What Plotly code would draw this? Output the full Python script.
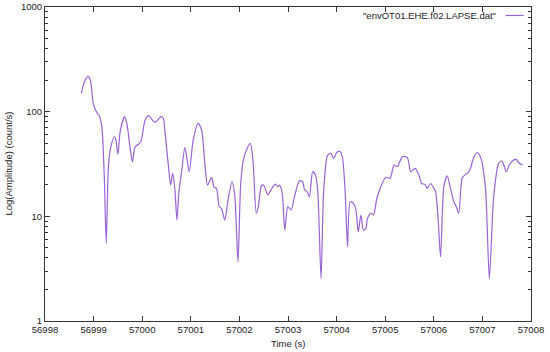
import plotly.graph_objects as go

# Time offsets (s) from 56998 and amplitudes (count/s)
t_offset = [
    0.748, 0.809, 0.881, 0.932, 1.000, 1.090, 1.117, 1.172, 1.219, 1.260,
    1.307, 1.363, 1.430, 1.459, 1.500, 1.547, 1.635, 1.684, 1.752, 1.799,
    1.855, 1.922, 1.977, 2.059, 2.127, 2.264, 2.387, 2.434, 2.469, 2.537,
    2.586, 2.627, 2.674, 2.715, 2.756, 2.811, 2.879, 2.967, 3.049, 3.152,
    3.221, 3.289, 3.344, 3.426, 3.480, 3.529, 3.582, 3.631, 3.699, 3.766,
    3.848, 3.904, 3.971, 4.027, 4.088, 4.176, 4.225, 4.279, 4.348, 4.389,
    4.451, 4.498, 4.586, 4.656, 4.738, 4.791, 4.826, 4.881, 4.934, 4.996,
    5.066, 5.133, 5.236, 5.303, 5.338, 5.393, 5.441, 5.508, 5.564, 5.611,
    5.680, 5.734, 5.816, 5.885, 5.939, 6.008, 6.076, 6.123, 6.178, 6.225,
    6.281, 6.348, 6.398, 6.445, 6.500, 6.553, 6.602, 6.635, 6.705, 6.758,
    6.828, 6.910, 7.012, 7.100, 7.182, 7.250, 7.352, 7.455, 7.525, 7.613,
    7.695, 7.750, 7.818, 7.865, 7.934, 8.002, 8.037, 8.084, 8.139, 8.207,
    8.275, 8.344, 8.412, 8.459, 8.514, 8.582, 8.637, 8.705, 8.754, 8.822,
    8.889, 8.959, 9.061, 9.143, 9.232, 9.334, 9.402, 9.492, 9.553, 9.641,
    9.697, 9.744, 9.826,
]
amplitude = [
    150, 192, 217, 201, 116, 94.4, 91.6, 69.4, 24.8, 5.5,
    30.9, 48.0, 57.6, 53.6, 39.1, 64.4, 89.6, 77.4, 44.7, 33.2,
    46.2, 48.8, 52.5, 83.3, 91.6, 79.2, 89.6, 86.5, 64.4, 30.9,
    19.9, 25.7, 17.8, 9.2, 17.2, 26.7, 45.6, 26.7, 53.6, 77.4,
    66.8, 32.1, 19.9, 23.6, 18.9, 18.5, 12.5, 11.9, 9.2, 14.3,
    21.4, 16.0, 3.67, 20.6, 35.8, 46.2, 49.9, 34.5, 10.7, 12.3,
    19.5, 19.9, 16.0, 18.1, 20.3, 19.2, 19.9, 16.6, 7.38, 12.3,
    11.5, 15.4, 21.9, 21.4, 18.1, 17.2, 15.4, 26.7, 24.8, 17.8,
    2.55, 17.8, 38.5, 40.0, 35.8, 40.9, 41.4, 35.8, 16.6, 5.11,
    13.8, 13.3, 11.5, 7.11, 10.3, 7.38, 7.66, 9.55, 10.7, 10.3,
    14.8, 19.2, 23.6, 23.1, 30.9, 29.8, 37.1, 36.6, 26.7, 28.7,
    24.8, 20.6, 20.2, 18.5, 20.6, 18.5, 17.2, 10.3, 4.10, 19.2,
    24.3, 18.5, 13.8, 12.5, 10.7, 23.1, 24.8, 26.1, 28.7, 36.6,
    40.5, 37.1, 19.2, 2.55, 15.4, 32.1, 33.8, 26.7, 30.9, 34.5,
    35.0, 32.5, 30.9,
]
t0 = 56998
time_s = [t0 + v for v in t_offset]

x_ticks = list(range(56998, 57009))
y_ticks = [1, 10, 100, 1000]
series_name = '"envOT01.EHE.f02.LAPSE.dat"'

line_color = "#9a62d8"
font = dict(family="Liberation Sans, Arial, sans-serif", size=9.5, color="#222")

fig = go.Figure()
fig.add_trace(go.Scatter(
    x=time_s, y=amplitude, mode="lines", name=series_name,
    line=dict(color=line_color, width=1.2, shape="spline", smoothing=0.7),
    showlegend=False,
))

axis_common = dict(
    showline=True, linecolor="#333", linewidth=1, mirror="ticks",
    ticks="inside", tickcolor="#333", ticklen=5, showgrid=False,
    zeroline=False, tickfont=font, automargin=False,
)
fig.update_xaxes(
    range=[56998, 57008], tickvals=x_ticks, ticktext=[str(v) for v in x_ticks],
    **axis_common,
)
fig.update_yaxes(
    type="log", range=[0, 3], tickvals=y_ticks, ticktext=[str(v) for v in y_ticks],
    minor=dict(ticks="inside", ticklen=3, tickcolor="#333", dtick="D1"),
    **axis_common,
)

# axis titles placed like gnuplot's
fig.add_annotation(
    x=0.5, y=-0.072, xref="paper", yref="paper", text="Time (s)",
    showarrow=False, xanchor="center", yanchor="middle", font=font,
)
fig.add_annotation(
    x=-0.077, y=0.5, xref="paper", yref="paper", text="Log(Amplitude) (count/s)",
    showarrow=False, xanchor="center", yanchor="middle", textangle=-90, font=font,
)

# gnuplot-style key: text with line sample to its right
fig.add_annotation(
    x=0.932, y=0.973, xref="paper", yref="paper", text=series_name,
    showarrow=False, xanchor="right", yanchor="middle", font=font,
)
fig.add_shape(
    type="line", xref="paper", yref="paper", x0=0.948, x1=0.985, y0=0.973, y1=0.973,
    line=dict(color=line_color, width=1.2),
)

fig.update_layout(
    width=550, height=352,
    margin=dict(l=45, r=19, t=7, b=31),
    paper_bgcolor="white", plot_bgcolor="white",
)

# drop the browser's default page margin so the figure sits at the window origin
fig.write_html(
    "out.html",
    config={"displayModeBar": False},
    post_script="document.body.style.margin='0';",
)
